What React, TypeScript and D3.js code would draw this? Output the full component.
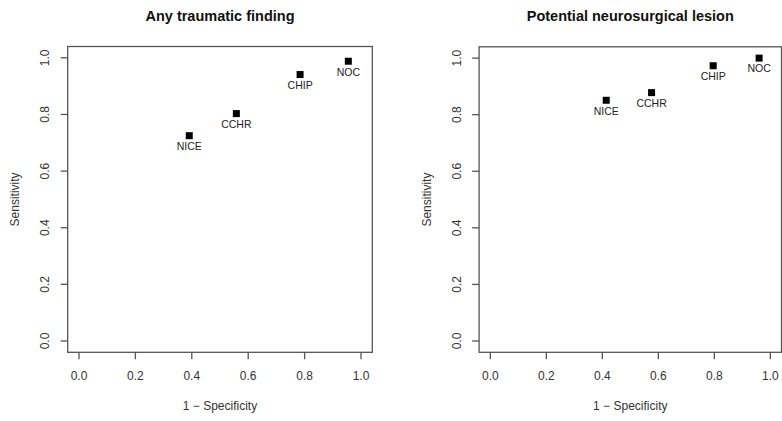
import React from "react";
import * as d3 from "d3";

const rules = ["NICE", "CCHR", "CHIP", "NOC"];
const anyFindingFPR = [0.391, 0.558, 0.784, 0.955];
const anyFindingSens = [0.725, 0.803, 0.941, 0.988];
const neuroFPR = [0.414, 0.576, 0.796, 0.96];
const neuroSens = [0.851, 0.878, 0.973, 1.0];
const ticks = [0, 0.2, 0.4, 0.6, 0.8, 1.0];
const titles = ["Any traumatic finding", "Potential neurosurgical lesion"];

const FONT = "'Liberation Sans', Arial, Helvetica, sans-serif";
const AX = "#555";

type PanelProps = {
  title: string;
  fpr: number[];
  sens: number[];
  left: number;
  right: number;
  top: number;
  bottom: number;
};

function Panel({ title, fpr, sens, left, right, top, bottom }: PanelProps) {
  const x = d3.scaleLinear().domain([-0.04, 1.04]).range([left, right]);
  const y = d3.scaleLinear().domain([-0.04, 1.04]).range([bottom, top]);
  const cx = (left + right) / 2;
  const cy = (top + bottom) / 2;
  const tickLen = 7;
  return (
    <g>
      <text x={cx} y={16} textAnchor="middle" dominantBaseline="central" fontFamily={FONT} fontWeight="bold" fontSize={14.5} fill="#111">
        {title}
      </text>
      <rect x={left} y={top} width={right - left} height={bottom - top} fill="none" stroke={AX} strokeWidth={1.3} />
      {ticks.map((t) => (
        <g key={"x" + t}>
          <line x1={x(t)} x2={x(t)} y1={bottom} y2={bottom + tickLen} stroke={AX} strokeWidth={1.3} />
          <text x={x(t)} y={375.7} textAnchor="middle" dominantBaseline="central" fontFamily={FONT} fontSize={12} fill="#333">
            {d3.format(".1f")(t)}
          </text>
        </g>
      ))}
      {ticks.map((t) => (
        <g key={"y" + t}>
          <line x1={left - tickLen} x2={left} y1={y(t)} y2={y(t)} stroke={AX} strokeWidth={1.3} />
          <text
            transform={`translate(${left - 22.3},${y(t)}) rotate(-90)`}
            textAnchor="middle"
            dominantBaseline="central"
            fontFamily={FONT}
            fontSize={12}
            fill="#333"
          >
            {d3.format(".1f")(t)}
          </text>
        </g>
      ))}
      <text x={cx} y={406} textAnchor="middle" dominantBaseline="central" fontFamily={FONT} fontSize={12} fill="#333">
        1 − Specificity
      </text>
      <text
        transform={`translate(${left - 52.5},${cy}) rotate(-90)`}
        textAnchor="middle"
        dominantBaseline="central"
        fontFamily={FONT}
        fontSize={12}
        fill="#333"
      >
        Sensitivity
      </text>
      {rules.map((r, i) => (
        <g key={r}>
          <rect x={x(fpr[i]) - 3.5} y={y(sens[i]) - 3.5} width={7} height={7} fill="#000" />
          <text x={x(fpr[i])} y={y(sens[i]) + 10.3} textAnchor="middle" dominantBaseline="central" fontFamily={FONT} fontSize={10.5} fill="#222">
            {r}
          </text>
        </g>
      ))}
    </g>
  );
}

export default function App() {
  return (
    <svg width={782} height={421} style={{ position: "absolute", left: 0, top: 0, background: "#fff" }}>
      <rect width={782} height={421} fill="#fff" />
      <Panel title={titles[0]} fpr={anyFindingFPR} sens={anyFindingSens} left={67.7} right={372.3} top={46.5} bottom={352.3} />
      <Panel title={titles[1]} fpr={neuroFPR} sens={neuroSens} left={479.1} right={781.5} top={46.8} bottom={352.3} />
    </svg>
  );
}
